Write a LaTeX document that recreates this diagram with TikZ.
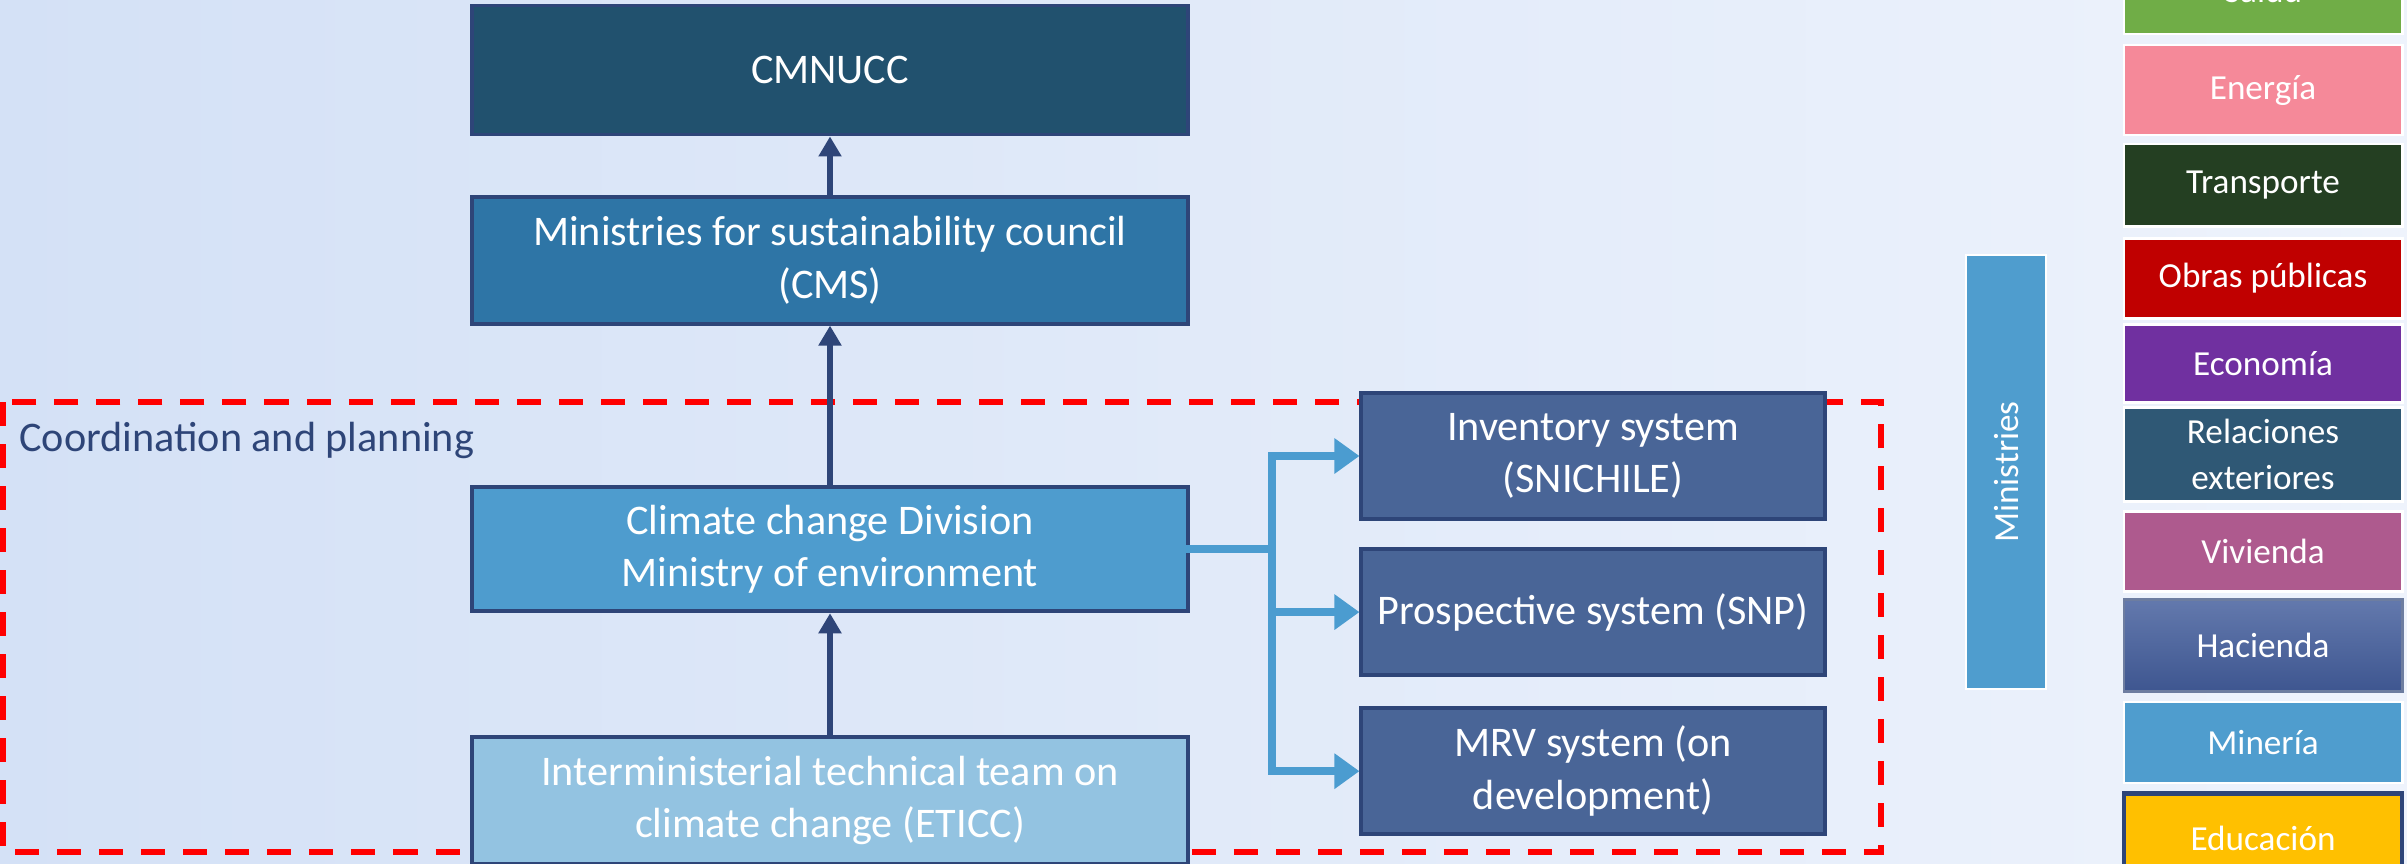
\documentclass[tikz,border=0pt]{standalone}
\usepackage{fontspec}
\setmainfont{Carlito}
\usetikzlibrary{arrows.meta,positioning}

\definecolor{bgA}{RGB}{212,225,246}
\definecolor{bgB}{RGB}{238,243,252}
\definecolor{navy}{RGB}{46,69,120}
\definecolor{cmnucc}{RGB}{33,81,110}
\definecolor{cms}{RGB}{46,117,166}
\definecolor{divi}{RGB}{78,156,206}
\definecolor{eticc}{RGB}{147,195,225}
\definecolor{sysblue}{RGB}{73,101,151}
\definecolor{branchblue}{RGB}{75,156,208}
\definecolor{salud}{RGB}{112,173,71}
\definecolor{energia}{RGB}{245,137,153}
\definecolor{transp}{RGB}{36,63,34}
\definecolor{obras}{RGB}{192,0,0}
\definecolor{econ}{RGB}{112,48,160}
\definecolor{relac}{RGB}{47,88,117}
\definecolor{vivi}{RGB}{174,90,142}
\definecolor{hacA}{RGB}{99,121,173}
\definecolor{hacB}{RGB}{62,86,144}
\definecolor{mineria}{RGB}{79,157,206}
\definecolor{educ}{RGB}{255,192,0}

\begin{document}
\begin{tikzpicture}[x=0.01cm, y=-0.01cm,
		mainbox/.style={draw=navy, line width=1.1pt, minimum width=7.15cm, minimum height=1.27cm, align=center, text=white, font=\fontsize{12}{15}\selectfont},
		sysbox/.style={mainbox, fill=sysblue, minimum width=4.63cm, minimum height=1.26cm},
		minbox/.style={draw=white, line width=0.8pt, minimum width=2.78cm, align=center, text=white, font=\fontsize{10}{13}\selectfont},
		up/.style={draw=navy, line width=1.5pt, -{Triangle[length=0.2cm, width=0.22cm]}},
		branch/.style={draw=branchblue, line width=2.3pt, -{Triangle[length=0.25cm, width=0.34cm]}}]
		\useasboundingbox (0,0) rectangle (2407,864);
		\fill[left color=bgA, right color=bgB] (0,0) rectangle (2407,864);
		
		\draw[red, line width=1.5pt, dash pattern=on 0.24cm off 0.18cm] (3,402) rectangle (1881,852);
		\node[anchor=west, text=navy, font=\fontsize{12}{15}\selectfont](CP) at (7,440){Coordination and planning};
		
		\node[mainbox, fill=cmnucc, minimum height=1.29cm](CM) at (830,70){CMNUCC};
		\node[mainbox, fill=cms, below of=CM, node distance=1.9cm](CMS){Ministries for sustainability council\\(CMS)};
		\node[mainbox, fill=divi, below of=CMS, node distance=2.89cm, minimum height=1.24cm](DIV){Climate change Division\\Ministry of environment};
		\node[mainbox, fill=eticc, below of=DIV, node distance=2.51cm](ET){Interministerial technical team on\\climate change (ETICC)};
		
		\draw[up] (ET) -- (DIV);
		\draw[up] (DIV) -- (CMS);
		\draw[up] (CMS) -- (CM);
		
		\node[sysbox](INV) at (1593,456){Inventory system\\(SNICHILE)};
		\node[sysbox, below of=INV, node distance=1.56cm](PRO){Prospective system (SNP)};
		\node[sysbox, below of=PRO, node distance=1.59cm](MRV){MRV system (on\\development)};
		
		\coordinate[right of=DIV, node distance=4.42cm](J){};
		
		\draw[draw=branchblue, line width=2.3pt, line cap=rect] (DIV) -- (J);
		\draw[branch] (J) |- (INV);
		\draw[branch] (J) |- (PRO);
		\draw[branch] (J) |- (MRV);
		
		\node[draw=white, fill=mineria, rotate=90, minimum width=4.34cm, minimum height=0.8cm, text=white, font=\fontsize{10}{12}\selectfont](MIN) at (2006,472){Ministries};
		
		\node[minbox, fill=salud, minimum height=0.88cm](SAL) at (2263,-10){Salud};
		\node[minbox, fill=energia, minimum height=0.9cm, below of=SAL, node distance=1cm](ENE){Energía};
		\node[minbox, fill=transp, minimum height=0.82cm, below of=ENE, node distance=0.95cm](TRA){Transporte};
		\node[minbox, fill=obras, minimum height=0.8cm, below of=TRA, node distance=0.93cm](OBR){Obras públicas};
		\node[minbox, fill=econ, minimum height=0.78cm, below of=OBR, node distance=0.85cm](ECO){Economía};
		\node[minbox, fill=relac, minimum height=0.91cm, below of=ECO, node distance=0.91cm](REL){Relaciones\\exteriores};
		\node[minbox, fill=vivi, minimum height=0.8cm, below of=REL, node distance=0.97cm](VIV){Vivienda};
		\node[minbox, top color=hacA, bottom color=hacB, draw=navy!70, minimum height=0.92cm, below of=VIV, node distance=0.94cm](HAC){Hacienda};
		\node[minbox, fill=mineria, minimum height=0.81cm, below of=HAC, node distance=0.97cm](MINE){Minería};
		\node[minbox, fill=educ, draw=navy, line width=1.3pt, minimum height=0.9cm, below of=MINE, node distance=0.96cm](EDU){Educación};
\end{tikzpicture}
\end{document}
